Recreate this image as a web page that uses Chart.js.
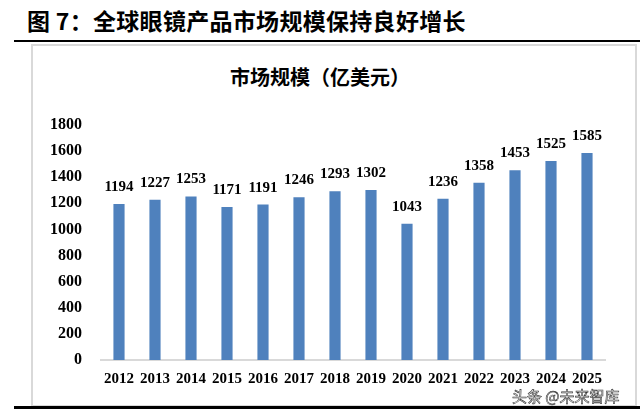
<!DOCTYPE html>
<html><head><meta charset="utf-8">
<script src="https://cdn.jsdelivr.net/npm/chart.js@4/dist/chart.umd.min.js"></script>
<style>
html,body{margin:0;padding:0;background:#fff;width:640px;height:410px;overflow:hidden;position:relative;}
#hdr{position:absolute;left:27px;top:3px;font-family:"Noto Sans CJK SC";font-weight:bold;font-size:23px;color:#000;white-space:nowrap;letter-spacing:0.3px;}
#topline{position:absolute;left:14px;top:40px;width:626px;height:2px;background:#000;}
#box{position:absolute;left:31px;top:44px;width:602px;height:359px;border:2px solid #d9d9d9;}
#botline{position:absolute;left:14px;top:406px;width:626px;height:3px;background:#000;}
#ctitle{position:absolute;left:0;width:640px;top:62px;text-align:center;font-family:"Noto Sans CJK SC";font-weight:bold;font-size:20px;}
#wm{position:absolute;left:512px;top:385px;font-family:"Noto Sans CJK SC";font-size:15px;color:#fff;-webkit-text-stroke:0.6px #333;}
canvas{position:absolute;left:0;top:0;}
</style></head>
<body>
<div id="hdr">图 7：全球眼镜产品市场规模保持良好增长</div>
<div id="topline"></div>
<div id="box"></div>
<div id="ctitle">市场规模（亿美元）</div>
<canvas id="c" width="640" height="410"></canvas>
<div id="botline"></div>
<div id="wm">头条 @未来智库</div>
<script>
const years = ['2012','2013','2014','2015','2016','2017','2018','2019','2020','2021','2022','2023','2024','2025'];
const marketSize = [1194,1227,1253,1171,1191,1246,1293,1302,1043,1236,1358,1453,1525,1585];
const yTicks = [0,200,400,600,800,1000,1200,1400,1600,1800];

const labelPlugin = {
  id:'barLabels',
  afterDatasetsDraw(chart){
    const ctx = chart.ctx;
    const meta = chart.getDatasetMeta(0);
    ctx.save();
    ctx.font = 'bold 15px "Liberation Serif"';
    ctx.fillStyle = '#000';
    ctx.textAlign = 'center';
    ctx.textBaseline = 'alphabetic';
    meta.data.forEach((el,i)=>{
      ctx.fillText(String(marketSize[i]), el.x, el.y - 13);
    });
    ctx.restore();
  }
};

new Chart(document.getElementById('c'),{
  type:'bar',
  data:{labels:years,datasets:[{data:marketSize,backgroundColor:'#4F81BD',borderWidth:0,barPercentage:0.62,categoryPercentage:0.5}]},
  options:{
    responsive:false,animation:false,
    layout:{padding:{top:125,right:35,bottom:0,left:0}},
    plugins:{legend:{display:false},tooltip:{enabled:false},title:{display:false}},
    scales:{
      x:{
        grid:{display:false,drawTicks:false},
        border:{display:true,color:'#d9d9d9',width:2},
        ticks:{color:'#000',font:{family:'"Liberation Serif"',weight:'bold',size:15},padding:10,maxRotation:0,autoSkip:false},
        afterFit(s){s.height=50;}
      },
      y:{
        min:0,max:1800,
        afterBuildTicks(s){s.ticks=yTicks.map(v=>({value:v}));},
        grid:{display:false,drawTicks:false},
        border:{display:false},
        ticks:{color:'#000',font:{family:'"Liberation Serif"',weight:'bold',size:16},padding:19,callback:(v)=>String(v)},
        afterFit(s){s.width=101;}
      }
    }
  },
  plugins:[labelPlugin]
});
</script>
</body></html>
